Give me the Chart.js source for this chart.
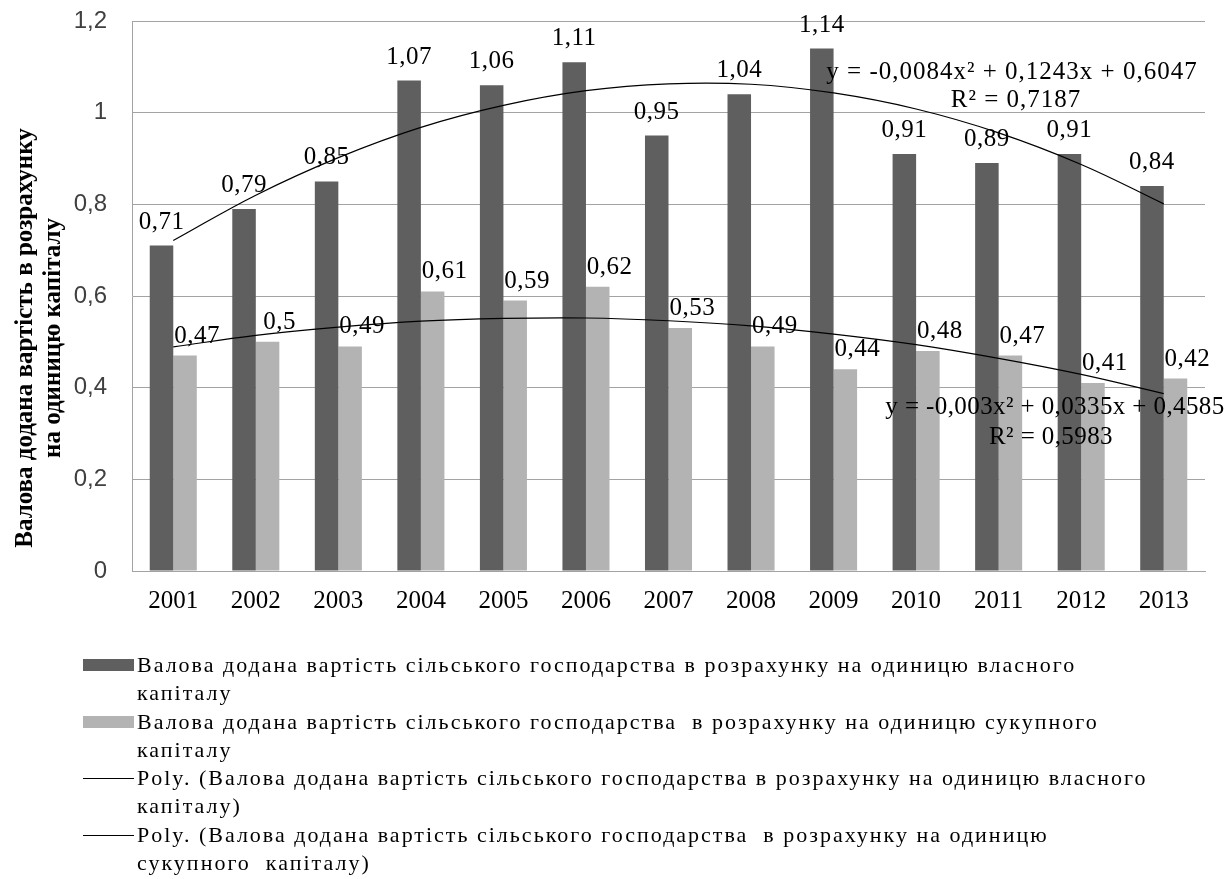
<!DOCTYPE html>
<html>
<head>
<meta charset="utf-8">
<script src="https://cdn.jsdelivr.net/npm/chart.js@4.4.1/dist/chart.umd.min.js"></script>
<style>
  html, body { margin: 0; padding: 0; background: #fff; }
  #wrap { position: relative; width: 1231px; height: 879px; overflow: hidden; }
  #c { position: absolute; left: 0; top: 0; }
  #legend { position: absolute; left: 0; top: 0; width: 1231px; height: 879px;
            font-family: "Liberation Serif", "Times New Roman", serif; font-size: 22px;
            color: #000; letter-spacing: 2px; }
  .item { position: absolute; left: 137px; line-height: 28.25px; white-space: nowrap; }
  .sw { position: absolute; left: -54px; width: 51px; height: 12px; top: 8px; }
  .ln { position: absolute; left: -54px; width: 51px; height: 0; top: 14px; border-top: 1px solid #000; }
</style>
</head>
<body>
<div id="wrap">
  <canvas id="c" width="1231" height="879"></canvas>
  <div id="legend"></div>
</div>
<script>
// ---- data ----
const years = ['2001','2002','2003','2004','2005','2006','2007','2008','2009','2010','2011','2012','2013'];
const ownCapital = [0.71, 0.79, 0.85, 1.07, 1.06, 1.11, 0.95, 1.04, 1.14, 0.91, 0.89, 0.91, 0.84];
const totalCapital = [0.47, 0.50, 0.49, 0.61, 0.59, 0.62, 0.53, 0.49, 0.44, 0.48, 0.47, 0.41, 0.42];
const trendOwn = [0.721, 0.820, 0.902, 0.968, 1.016, 1.048, 1.063, 1.062, 1.043, 1.008, 0.956, 0.887, 0.801];
const trendTotal = [0.489, 0.514, 0.532, 0.545, 0.551, 0.552, 0.546, 0.535, 0.517, 0.494, 0.464, 0.429, 0.387];
const yTickValues = [0, 0.2, 0.4, 0.6, 0.8, 1.0, 1.2];
const yTickLabels = ['0', '0,2', '0,4', '0,6', '0,8', '1', '1,2'];
const yTitle = ['Валова додана вартість в розрахунку', 'на одиницю капіталу'];
const eqOwn = ['y = -0,0084x² + 0,1243x + 0,6047', 'R² = 0,7187'];
const eqTotal = ['y = -0,003x² + 0,0335x + 0,4585', 'R² = 0,5983'];
const legendLines = [
  ['Валова додана вартість сільського господарства в розрахунку на одиницю власного', 'капіталу'],
  ['Валова додана вартість сільського господарства  в розрахунку на одиницю сукупного', 'капіталу'],
  ['Poly. (Валова додана вартість сільського господарства в розрахунку на одиницю власного', 'капіталу)'],
  ['Poly. (Валова додана вартість сільського господарства  в розрахунку на одиницю', 'сукупного  капіталу)']
];

const DARK = '#5f5f5f';
const LIGHT = '#b3b3b3';
const GRID = '#a3a3a3';
const SERIF = '"Liberation Serif", "Times New Roman", serif';

function fmt(v) { return String(v).replace('.', ','); }

const overlay = {
  id: 'overlay',
  afterDatasetsDraw(chart) {
    const ctx = chart.ctx;
    ctx.save();
    ctx.fillStyle = '#000';
    ctx.font = '25px ' + SERIF;
    ctx.letterSpacing = '0.5px';
    ctx.textAlign = 'center';
    ctx.textBaseline = 'alphabetic';
    const m0 = chart.getDatasetMeta(2), m1 = chart.getDatasetMeta(3);
    m0.data.forEach((b, i) => ctx.fillText(fmt(ownCapital[i]), b.x, b.y - 17));
    m1.data.forEach((b, i) => ctx.fillText(fmt(totalCapital[i]), b.x + 12, b.y - 13));
    // equations
    ctx.textBaseline = 'middle';
    ctx.letterSpacing = '1px';
    ctx.fillText(eqOwn[0], 1012, 72);
    ctx.fillText(eqOwn[1], 1016, 100);
    ctx.letterSpacing = '0.4px';
    ctx.fillText(eqTotal[0], 1055, 407);
    ctx.fillText(eqTotal[1], 1051, 437);
    // y title
    ctx.letterSpacing = '0px';
    ctx.font = 'bold 25px ' + SERIF;
    [[26, yTitle[0]], [54, yTitle[1]]].forEach(([x, t]) => {
      ctx.save();
      ctx.translate(x, 338);
      ctx.rotate(-Math.PI / 2);
      ctx.fillText(t, 0, 0);
      ctx.restore();
    });
    ctx.restore();
  }
};

new Chart(document.getElementById('c'), {
  type: 'bar',
  data: {
    labels: years,
    datasets: [
      { type: 'line', label: 'Poly own', data: trendOwn, borderColor: '#000', borderWidth: 1.2,
        pointRadius: 0, tension: 0.4, fill: false, order: 0 },
      { type: 'line', label: 'Poly total', data: trendTotal, borderColor: '#000', borderWidth: 1.2,
        pointRadius: 0, tension: 0.4, fill: false, order: 0 },
      { label: legendLines[0].join(' '), data: ownCapital, backgroundColor: DARK, borderWidth: 0,
        barPercentage: 1, categoryPercentage: 0.57, order: 1 },
      { label: legendLines[1].join(' '), data: totalCapital, backgroundColor: LIGHT, borderWidth: 0,
        barPercentage: 1, categoryPercentage: 0.57, order: 1 }
    ]
  },
  options: {
    responsive: false,
    animation: false,
    devicePixelRatio: 1,
    layout: { padding: { left: 0, top: 21, right: 26, bottom: 0 } },
    plugins: { legend: { display: false }, tooltip: { enabled: false }, title: { display: false } },
    scales: {
      x: {
        grid: { display: false, drawTicks: false },
        border: { display: true, color: GRID, width: 1 },
        ticks: { color: '#000', font: { family: SERIF, size: 25 }, padding: 15, maxRotation: 0, autoSkip: false },
        afterFit(s) { s.height = 308; s.paddingLeft = 0; s.paddingRight = 0; }
      },
      y: {
        min: 0, max: 1.2,
        afterBuildTicks(s) { s.ticks = yTickValues.map(v => ({ value: v })); },
        grid: { color: GRID, lineWidth: 1, drawTicks: false },
        border: { display: true, color: GRID, width: 1 },
        ticks: {
          color: '#404040', font: { family: '"Liberation Sans", Arial, sans-serif', size: 24 }, padding: 25,
          callback: (v) => { const i = yTickValues.findIndex(t => Math.abs(t - v) < 1e-6); return i >= 0 ? yTickLabels[i] : ''; }
        },
        afterFit(s) { s.width = 132; s.paddingTop = 0; s.paddingBottom = 0; }
      }
    }
  },
  plugins: [overlay]
});

// ---- legend (HTML) ----
const legend = document.getElementById('legend');
const lineH = 28.25;
const firstTop = 651;
legendLines.forEach((lines, i) => {
  const d = document.createElement('div');
  d.className = 'item';
  d.style.top = (firstTop + i * 2 * lineH) + 'px';
  const mark = document.createElement('span');
  if (i < 2) { mark.className = 'sw'; mark.style.background = i === 0 ? DARK : LIGHT; }
  else { mark.className = 'ln'; }
  d.appendChild(mark);
  lines.forEach((t) => {
    const s = document.createElement('div');
    s.textContent = t;
    s.style.whiteSpace = 'pre';
    d.appendChild(s);
  });
  legend.appendChild(d);
});
</script>
</body>
</html>
